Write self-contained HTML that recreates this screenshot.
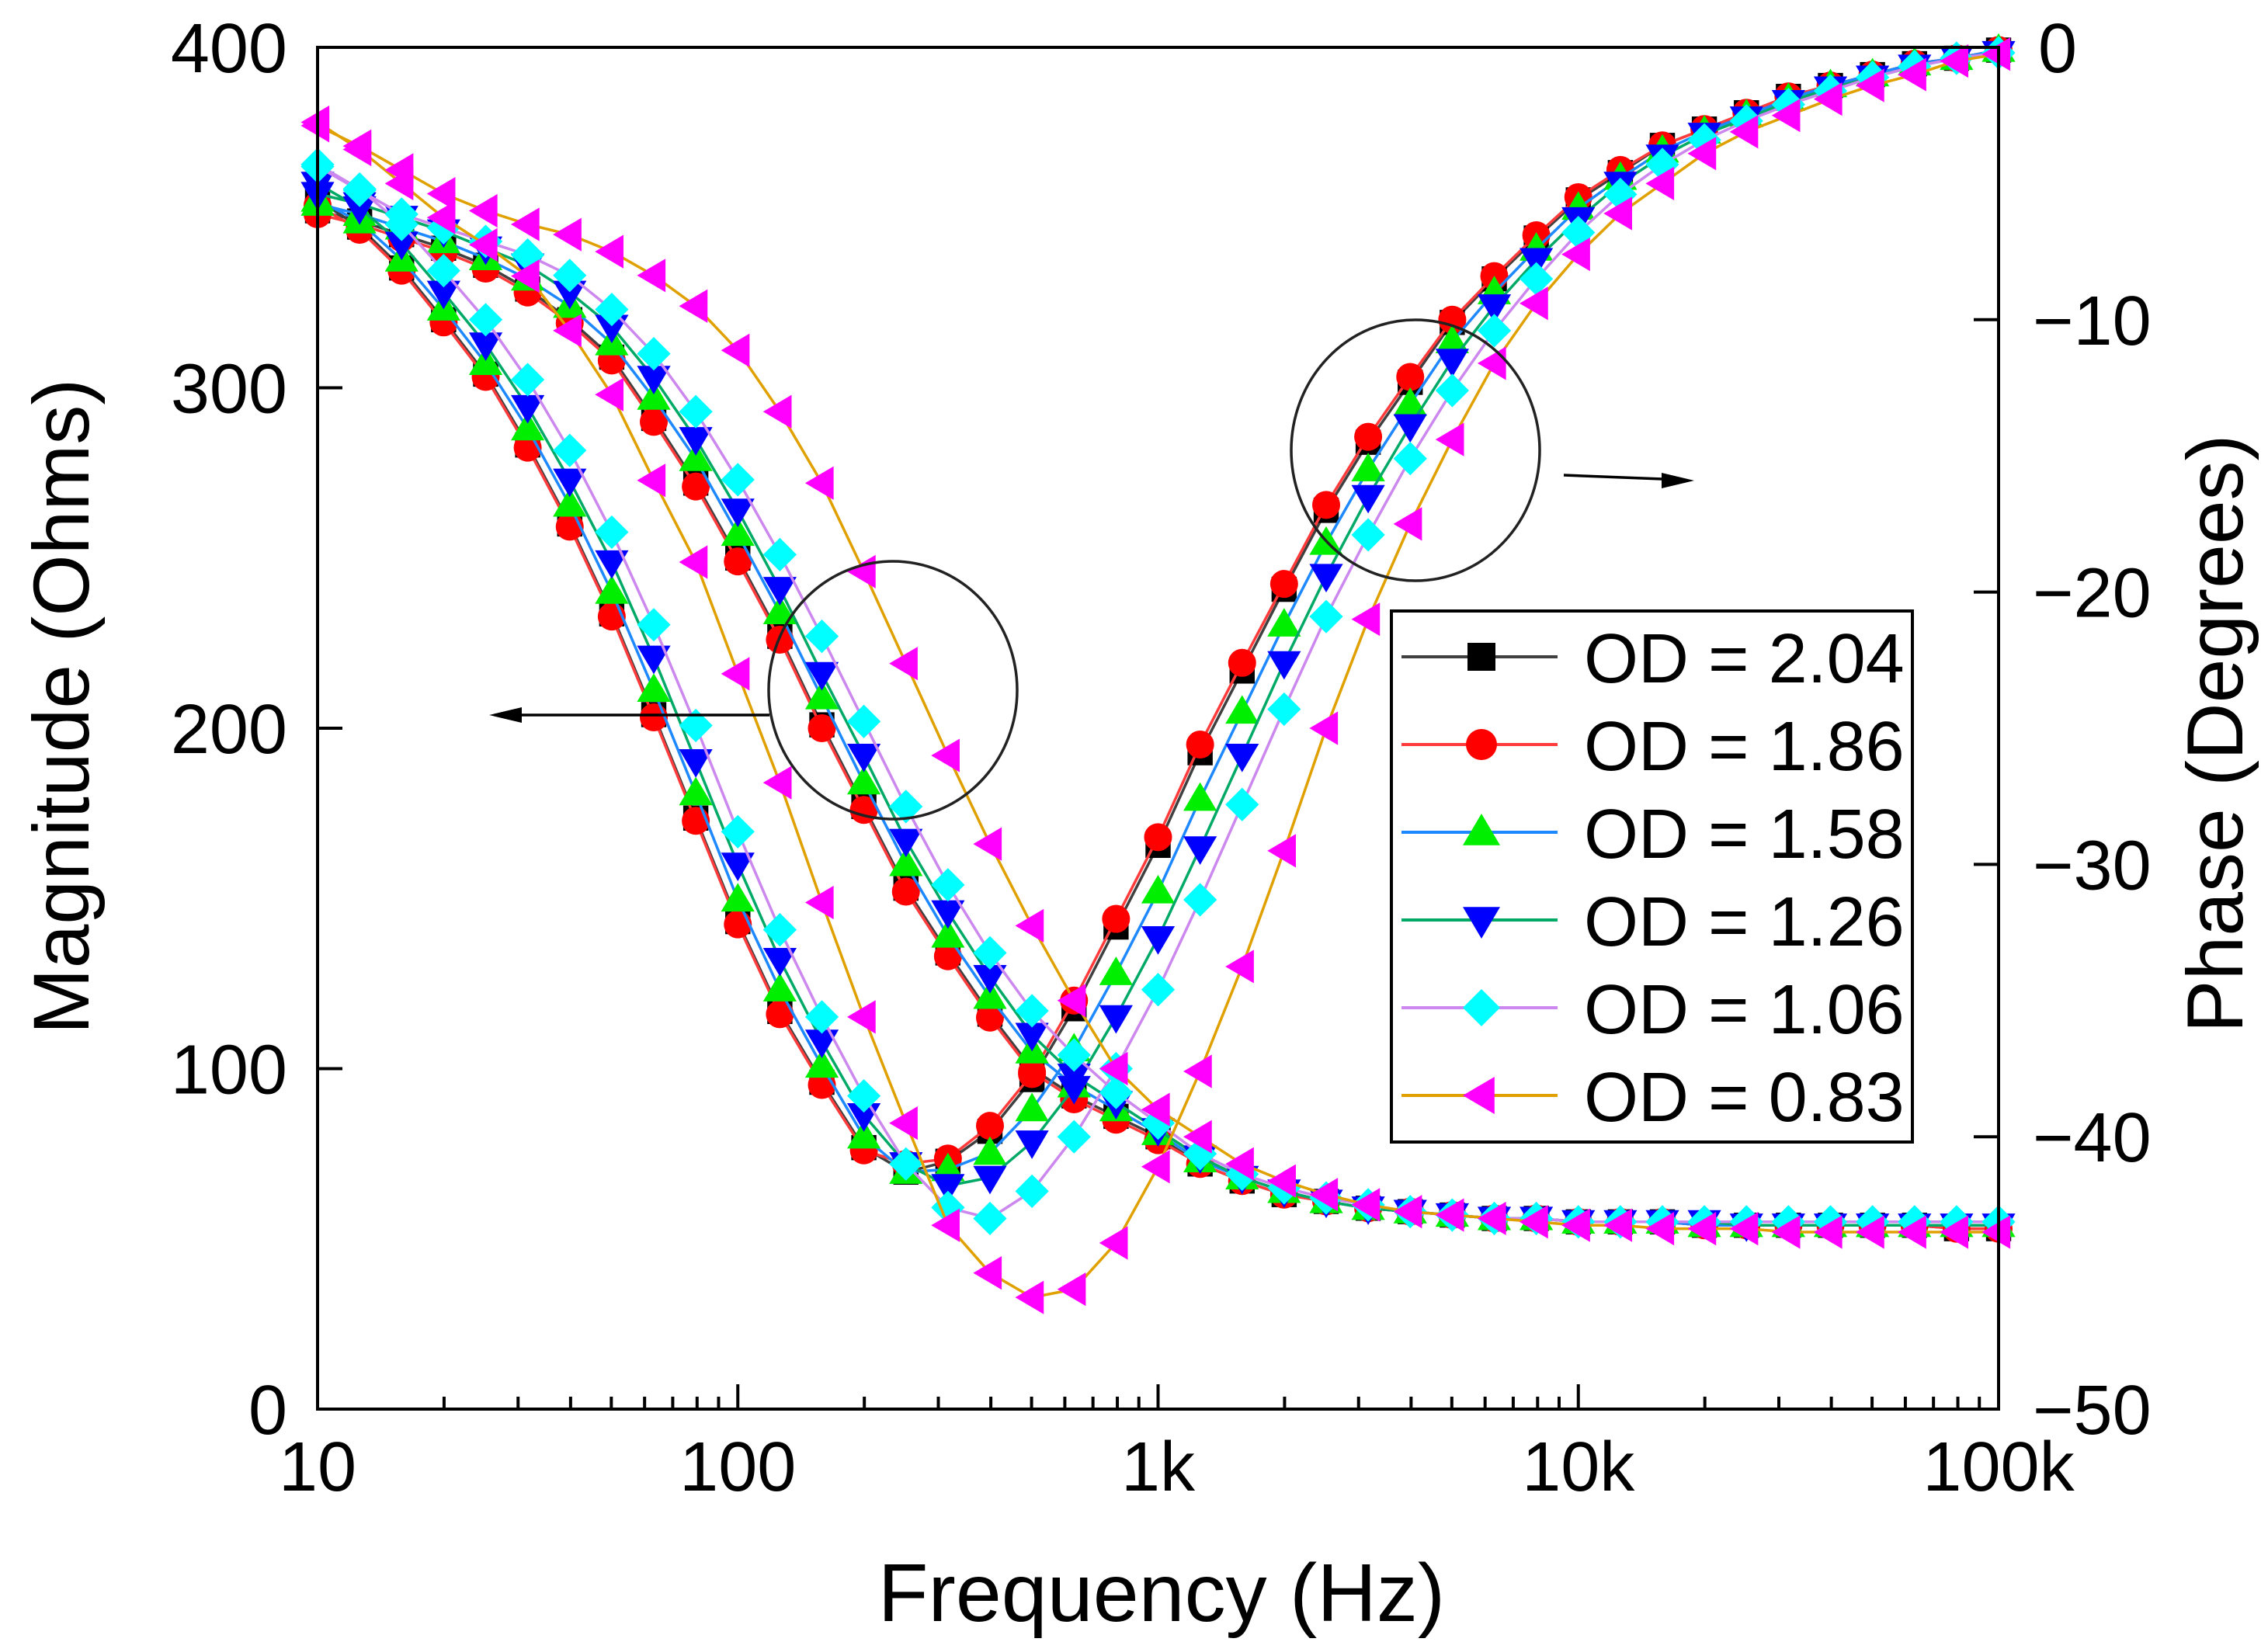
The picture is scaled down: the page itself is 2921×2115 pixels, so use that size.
<!DOCTYPE html>
<html><head><meta charset="utf-8">
<style>
html,body{margin:0;padding:0;background:#fff;}
svg{display:block;font-family:"Liberation Sans",Arial,sans-serif;}
</style></head>
<body>
<svg id="chart" width="2921" height="2115" viewBox="0 0 2921 2115" xmlns="http://www.w3.org/2000/svg">
<rect x="0" y="0" width="2921" height="2115" fill="#fff"/>
<g id="marks"></g>
<g id="axes"></g>
</svg>
<script>
const freqs=[10,12.59,15.85,19.95,25.12,31.62,39.81,50.12,63.1,79.43,
100,125.9,158.5,199.5,251.2,316.2,398.1,501.2,631,794.3,
1000,1259,1585,1995,2512,3162,3981,5012,6310,7943,
10000,12590,15850,19950,25120,31620,39810,50120,63100,79430,100000];
const seriesLabels=["OD = 2.04","OD = 1.86","OD = 1.58","OD = 1.26","OD = 1.06","OD = 0.83"];
const phase204=[-5.6,-6.6,-8.1,-10,-12,-14.6,-17.5,-20.8,-24.5,-28.3,-32.1,-35.4,-38,-40.4,-41.3,-40.9,-39.8,-37.9,-35.3,-32.3,-29.3,-25.9,-22.9,-19.9,-17,-14.5,-12.3,-10.1,-8.5,-7,-5.6,-4.6,-3.6,-3,-2.4,-1.8,-1.4,-1,-0.6,-0.4,-0.1];
const phase186=[-5.8,-6.7,-8.2,-10.1,-12.1,-14.7,-17.6,-20.9,-24.6,-28.4,-32.2,-35.5,-38.1,-40.5,-41.0,-40.8,-39.6,-37.7,-35.0,-32.0,-29.0,-25.6,-22.6,-19.7,-16.8,-14.3,-12.1,-10.0,-8.4,-6.9,-5.5,-4.5,-3.6,-3.0,-2.4,-1.8,-1.4,-1.0,-0.6,-0.4,-0.1];
const phase158=[-5.6,-6.4,-7.8,-9.6,-11.6,-14.0,-16.8,-20.0,-23.6,-27.4,-31.3,-34.6,-37.4,-40.0,-41.3,-41.2,-40.6,-39.0,-36.8,-34.0,-31.0,-27.6,-24.4,-21.2,-18.2,-15.5,-13.1,-10.8,-9.0,-7.4,-5.9,-4.8,-3.8,-3.1,-2.5,-1.9,-1.4,-1.0,-0.6,-0.4,-0.1];
const phase126=[-5.0,-5.9,-7.2,-9.0,-10.9,-13.2,-15.9,-18.9,-22.4,-26.2,-30.0,-33.5,-36.5,-39.2,-41.0,-41.8,-41.5,-40.2,-38.2,-35.6,-32.7,-29.4,-26.0,-22.6,-19.4,-16.5,-13.9,-11.5,-9.5,-7.8,-6.3,-5.0,-4.0,-3.2,-2.6,-2.0,-1.5,-1.1,-0.7,-0.4,-0.2];
const phase106=[-4.3,-5.2,-6.5,-8.2,-10.0,-12.2,-14.8,-17.8,-21.2,-24.9,-28.8,-32.4,-35.6,-38.5,-41.0,-42.6,-43.0,-42.0,-40.0,-37.5,-34.6,-31.3,-27.8,-24.3,-20.9,-17.9,-15.1,-12.6,-10.4,-8.5,-6.8,-5.4,-4.3,-3.4,-2.7,-2.1,-1.6,-1.1,-0.7,-0.4,-0.2];
const phase083=[-2.75,-3.75,-5,-6.25,-7.25,-8.4,-10.4,-12.75,-15.9,-18.9,-23,-27,-31.4,-35.6,-39.5,-43.25,-45,-45.9,-45.6,-43.9,-41.1,-37.6,-33.75,-29.5,-25,-21,-17.5,-14.4,-11.6,-9.4,-7.6,-6.1,-5,-3.9,-3.1,-2.5,-1.9,-1.4,-1,-0.5,-0.25];
const mag204=[352,349,345,341,336,329,320,309,291,272,250,227,201,177,153,134,116,100,92,86,80,72,67,63,61,59,58,57,56,56,55,55,55,54,54,54,54,54,54,53,53];
const mag186=[351,348,344,340,335,328,319,308,290,271,249,226,200,176,152,133,115,99,91,85,79,72,67,63,61,59,58,57,56,56,55,55,55,54,54,54,54,54,54,53,53];
const mag158=[354,351,347,343,338,332,324,313,297,279,257,234,209,184,160,139,121,105,95,88,81,73,68,64,61,59,58,57,56,56,55,55,55,54,54,54,54,54,54,54,54];
const mag126=[357,354,350,346,341,336,328,318,303,285,264,241,216,192,167,146,127,110,98,90,82,74,68,64,61,59,58,57,56,56,55,55,55,55,54,54,54,54,54,54,54];
const mag106=[365,358,351,347,343,339,333,323,310,293,273,251,227,202,177,154,134,117,104,93,84,75,69,65,62,60,58,57,56,56,55,55,55,55,55,55,55,55,55,55,55];
const mag083=[377,371,364,357,352,348,345,340,333,324,311,293,272,246,219,192,166,142,120,100,88,80,72,67,63,60,58,57,56,55,54,54,53,53,53,52,52,52,52,52,52];
const xTickLabels=["10","100","1k","10k","100k"];
const xTickValues=[10,100,1000,10000,100000];
const magTicks=[0,100,200,300,400];
const phaseTicks=[0,-10,-20,-30,-40,-50];

const NS="http://www.w3.org/2000/svg";
const X0=409,X1=2574,Y0=61,Y1=1815;
function xs(f){return X0+(Math.log10(f)-1)/4*(X1-X0);}
function ym(v){return Y1-v/400*(Y1-Y0);}
function yp(v){return Y0+(-v)/50*(Y1-Y0);}
function el(tag,attrs,parent){const e=document.createElementNS(NS,tag);for(const k in attrs)e.setAttribute(k,attrs[k]);parent.appendChild(e);return e;}

const lineColors=["#404040","#ff3b3b","#1e88ff","#00aa66","#cc88ee","#e0a000"];
const markColors=["#000000","#ff0000","#00ee00","#0000ff","#00ffff","#ff00ff"];
const shapes=["square","circle","up","down","diamond","left"];
const phases=[phase204,phase186,phase158,phase126,phase106,phase083];
const mags=[mag204,mag186,mag158,mag126,mag106,mag083];

function marker(shape,cx,cy,s,color,parent){
  let e;
  if(shape==="square"){e=el("rect",{x:cx-s*0.45,y:cy-s*0.45,width:s*0.9,height:s*0.9,fill:color},parent);}
  else if(shape==="circle"){e=el("circle",{cx:cx,cy:cy,r:s*0.5,fill:color},parent);}
  else {
    let p;
    const r=s*0.6;
    if(shape==="up")p=[[cx,cy-r],[cx+r,cy+r*0.7],[cx-r,cy+r*0.7]];
    else if(shape==="down")p=[[cx,cy+r],[cx+r,cy-r*0.7],[cx-r,cy-r*0.7]];
    else if(shape==="diamond")p=[[cx,cy-r],[cx+r,cy],[cx,cy+r],[cx-r,cy]];
    else p=[[cx-r,cy],[cx+r*0.7,cy-r],[cx+r*0.7,cy+r]];
    e=el("polygon",{points:p.map(q=>q.join(",")).join(" "),fill:color},parent);
  }
  return e;
}

const marks=document.getElementById("marks");
for(let s=0;s<6;s++){
  const g=el("g",{},marks);
  
  
  const pm=freqs.map((f,i)=>xs(f).toFixed(1)+","+ym(mags[s][i]).toFixed(1)).join(" ");
  const pp=freqs.map((f,i)=>xs(f).toFixed(1)+","+yp(phases[s][i]).toFixed(1)).join(" ");
  const l1=el("polyline",{points:pm,fill:"none",stroke:lineColors[s],"stroke-width":3.5},g);
  
  
  const l2=el("polyline",{points:pp,fill:"none",stroke:lineColors[s],"stroke-width":3.5},g);
  
  
  freqs.forEach((f,i)=>{
    const m1=marker(shapes[s],xs(f),ym(mags[s][i]),36,markColors[s],g);
    
    
    const m2=marker(shapes[s],xs(f),yp(phases[s][i]),36,markColors[s],g);
    
    
  });
}

const ax=document.getElementById("axes");
const frame=el("rect",{x:X0,y:Y0,width:X1-X0,height:Y1-Y0,fill:"none",stroke:"#000","stroke-width":4},ax);


for(let d=1;d<5;d++){for(let k=2;k<10;k++){
  const f=Math.pow(10,d)*k; const x=xs(f);
  const t=el("line",{x1:x,y1:Y1,x2:x,y2:Y1-16,stroke:"#000","stroke-width":4},ax);
  
  
}}
xTickValues.forEach((v,i)=>{
  const x=xs(v);
  const t=el("line",{x1:x,y1:Y1,x2:x,y2:Y1-32,stroke:"#000","stroke-width":4},ax);
  
  
  const tx=el("text",{x:x,y:1920,"font-size":90,"text-anchor":"middle",fill:"#000"},ax);
  tx.textContent=xTickLabels[i];
  
  
});
magTicks.forEach(v=>{
  const y=ym(v);
  const t=el("line",{x1:X0,y1:y,x2:X0+32,y2:y,stroke:"#000","stroke-width":4},ax);
  
  
  const tx=el("text",{x:370,y:y+32,"font-size":90,"text-anchor":"end",fill:"#000"},ax);
  tx.textContent=String(v);
  
  
});
phaseTicks.forEach(v=>{
  const y=yp(v);
  const t=el("line",{x1:X1,y1:y,x2:X1-32,y2:y,stroke:"#000","stroke-width":4},ax);
  
  
  const tx=el("text",{x:v===0?2625:2618,y:y+32,"font-size":90,"text-anchor":"start",fill:"#000"},ax);
  tx.textContent=v===0?"0":"\u2212"+String(-v);
  
  
});
const xt=el("text",{x:1496,y:2088,"font-size":106,"text-anchor":"middle",fill:"#000"},ax);
xt.textContent="Frequency (Hz)";


const yt=el("text",{x:0,y:0,"font-size":102,"text-anchor":"middle",fill:"#000",transform:"translate(114,910) rotate(-90)"},ax);
yt.textContent="Magnitude (Ohms)";


const yt2=el("text",{x:0,y:0,"font-size":102,"text-anchor":"middle",fill:"#000",transform:"translate(2888,945) rotate(-90)"},ax);
yt2.textContent="Phase (Degrees)";


const c1=el("ellipse",{cx:1150,cy:889,rx:160,ry:166,fill:"none",stroke:"#222","stroke-width":3.5},ax);


const c2=el("ellipse",{cx:1823,cy:580,rx:160,ry:168,fill:"none",stroke:"#222","stroke-width":3.5},ax);


const a1=el("line",{x1:991,y1:921,x2:650,y2:921,stroke:"#000","stroke-width":3.5},ax);


const h1=el("polygon",{points:"630,921 672,911 672,931",fill:"#000"},ax);


const a2=el("line",{x1:2014,y1:612,x2:2165,y2:618,stroke:"#000","stroke-width":3.5},ax);


const h2=el("polygon",{points:"2182,619 2140,609 2140,629",fill:"#000"},ax);


const lg=el("g",{},ax);


const lb=el("rect",{x:1792,y:787,width:671,height:684,fill:"#fff",stroke:"#000","stroke-width":4},lg);


seriesLabels.forEach((lab,s)=>{
  const y=846+s*113;
  const en=el("g",{},lg);
  
  
  el("line",{x1:1805,y1:y,x2:2006,y2:y,stroke:lineColors[s],"stroke-width":4},en);
  marker(shapes[s],1908,y,40,markColors[s],en);
  const tx=el("text",{x:2040,y:y+33,"font-size":90,fill:"#000"},en);
  tx.textContent=lab;
});
</script>
</body></html>
